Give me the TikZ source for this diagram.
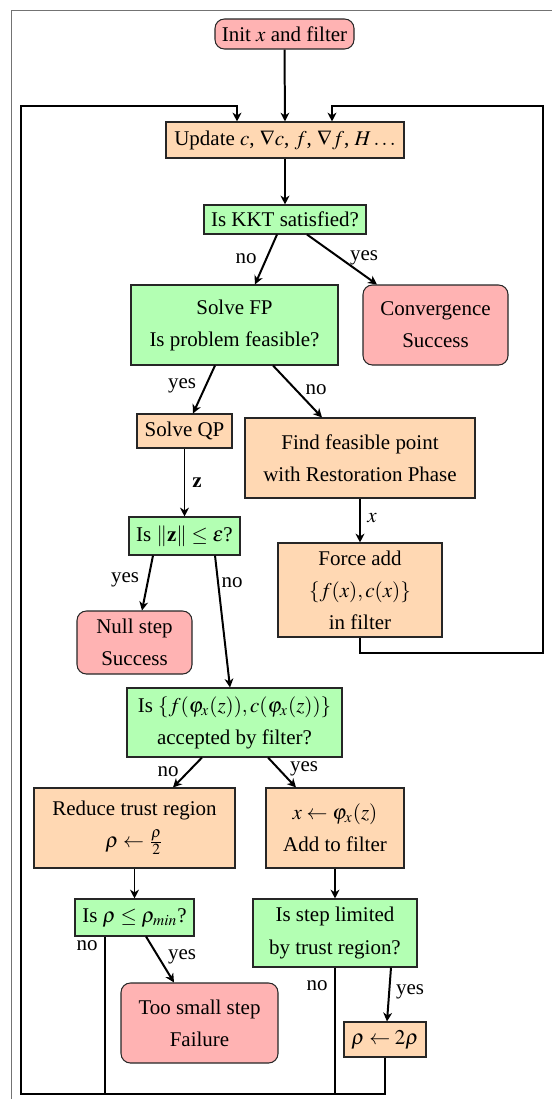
\documentclass[tikz,border=0pt]{standalone}
\usepackage{mathptmx}
\usepackage{fontspec}
\setmainfont{Liberation Serif}
\usetikzlibrary{calc,arrows.meta}
\definecolor{pinkfill}{RGB}{255,179,179}
\definecolor{greenfill}{RGB}{179,255,179}
\definecolor{orangefill}{RGB}{255,216,179}
\tikzset{
  box/.style={draw=black!85, line width=0.5pt, inner sep=0pt, align=center,
    font=\fontsize{10}{15.3}\selectfont},
  endbox/.style={box, fill=pinkfill, rounded corners=4.5pt},
  testbox/.style={box, fill=greenfill},
  workbox/.style={box, fill=orangefill},
  arr/.style={-{Stealth[length=4.2pt,width=4.2pt,inset=1.3pt]}, line width=0.95pt},
  loopline/.style={line width=1.2pt},
  lbl/.style={font=\fontsize{10}{12}\selectfont, inner sep=0pt},
}
\newcommand{\mybox}[6]{%
  \node[#1, minimum width={(#4-#2)*0.477pt}, minimum height={(#5-#3)*0.477pt}]
    (#6) at ({(#2+#4)/2},{(#3+#5)/2})}
\begin{document}
\begin{tikzpicture}[x=0.477pt,y=-0.477pt]
\useasboundingbox (0,0) rectangle (552,1099);
\clip (0,0) rectangle (552,1099);
\draw[black!55, line width=0.9pt] (11.5,10.5) rectangle (600,1150);

\mybox{endbox}{215}{19}{354}{49}{init} {Init $x$ and filter};
\mybox{workbox}{166}{122}{404}{158}{upd} {Update $c$, $\nabla c$, $f$, $\nabla f$, $H\dots$};
\mybox{testbox}{204}{205}{366}{234}{kkt} {Is KKT satisfied?};
\mybox{testbox}{131}{285}{338}{365}{fp} {Solve FP\\Is problem feasible?};
\mybox{endbox}{363}{285}{508}{365}{conv} {Convergence\\Success};
\mybox{workbox}{137}{414}{232}{448}{qp} {Solve QP};
\mybox{workbox}{245}{418}{475}{498}{rest} {Find feasible point\\with Restoration Phase};
\mybox{testbox}{129}{517}{240}{555}{zn} {Is $\|\mathbf{z}\| \le \varepsilon$?};
\mybox{workbox}{278}{543}{442}{637}{force} {Force add\\$\{f(x),c(x)\}$\\in filter};
\mybox{endbox}{77}{611}{192}{674}{null} {Null step\\Success};
\mybox{testbox}{127}{688}{342}{757}{acc} {Is $\{f(\varphi_x(z)),c(\varphi_x(z))\}$\\accepted by filter?};
\mybox{workbox}{34}{788}{235}{868}{red} {Reduce trust region\\$\rho \leftarrow \frac{\rho}{2}$};
\mybox{workbox}{266}{788}{404}{868}{upx} {$x \leftarrow \varphi_x(z)$\\Add to filter};
\mybox{testbox}{75}{899}{194}{936}{rmin} {Is $\rho \le \rho_{min}$?};
\mybox{testbox}{253}{899}{417}{967}{lim} {Is step limited\\by trust region?};
\mybox{endbox}{121}{983}{278}{1063}{small} {Too small step\\Failure};
\mybox{workbox}{344}{1022}{426}{1057}{dbl} {$\rho \leftarrow 2\rho$};

\coordinate (bl) at (21,1094);
\coordinate (tl) at (21,106);
\coordinate (rb) at (543,653);
\coordinate (rt) at (543,106);

% straight arrows
\draw[arr] (init.south) -- (upd.north);
\draw[arr] (upd.south) -- (kkt.north);
\draw[arr] ($(kkt.south)+(-8,0)$) -- ($(fp.north)+(20.5,0)$);
\draw[arr] ($(kkt.south)+(22,0)$) -- ($(conv.north)+(-58.5,0)$);
\draw[arr] ($(fp.south)+(-19.5,0)$) -- ($(qp.north)+(8.5,0)$);
\draw[arr] ($(fp.south)+(38.5,0)$) -- ($(rest.north)+(-38,0)$);
\draw[arr] (qp.south) -- (zn.north);
\draw[arr] (rest.south) -- (force.north);
\draw[arr] ($(zn.south)+(-31.5,0)$) -- ($(null.north)+(7.5,0)$);
\draw[arr] ($(zn.south)+(30.5,0)$) -- ($(acc.north)+(-4.5,0)$);
\draw[arr] ($(acc.south)+(-32.5,0)$) -- ($(red.north)+(38.5,0)$);
\draw[arr] ($(acc.south)+(33.5,0)$) -- ($(upx.north)+(-39,0)$);
\draw[arr] (red.south) -- (rmin.north);
\draw[arr] (upx.south) -- (lim.north);
\draw[arr] ($(rmin.south)+(11.5,0)$) -- ($(small.north)+(-25.5,0)$);
\draw[arr] ($(lim.south)+(56,0)$) -- ($(dbl.north)+(2,0)$);

% loops
\draw[loopline] ($(rmin.south)+(-29.5,0)$) |- (bl);
\draw[loopline] (lim.south) |- (bl);
\draw[arr, loopline] (dbl.south) |- (bl) -- (tl) -| ($(upd.north)+(-48,0)$);
\draw[arr, loopline] (force.south) |- (rb) -- (rt) -| ($(upd.north)+(47,0)$);

% labels
\node[lbl] at (246,259) {no};
\node[lbl] at (364,258) {yes};
\node[lbl] at (182,386) {yes};
\node[lbl] at (316,390) {no};
\node[lbl] at (197,483) {$\mathbf{z}$};
\node[lbl] at (372,518) {$x$};
\node[lbl] at (125,580) {yes};
\node[lbl] at (232,583) {no};
\node[lbl] at (168,772) {no};
\node[lbl] at (304,769) {yes};
\node[lbl] at (87,946) {no};
\node[lbl] at (182,957) {yes};
\node[lbl] at (317,986) {no};
\node[lbl] at (410,992) {yes};
\end{tikzpicture}
\end{document}
